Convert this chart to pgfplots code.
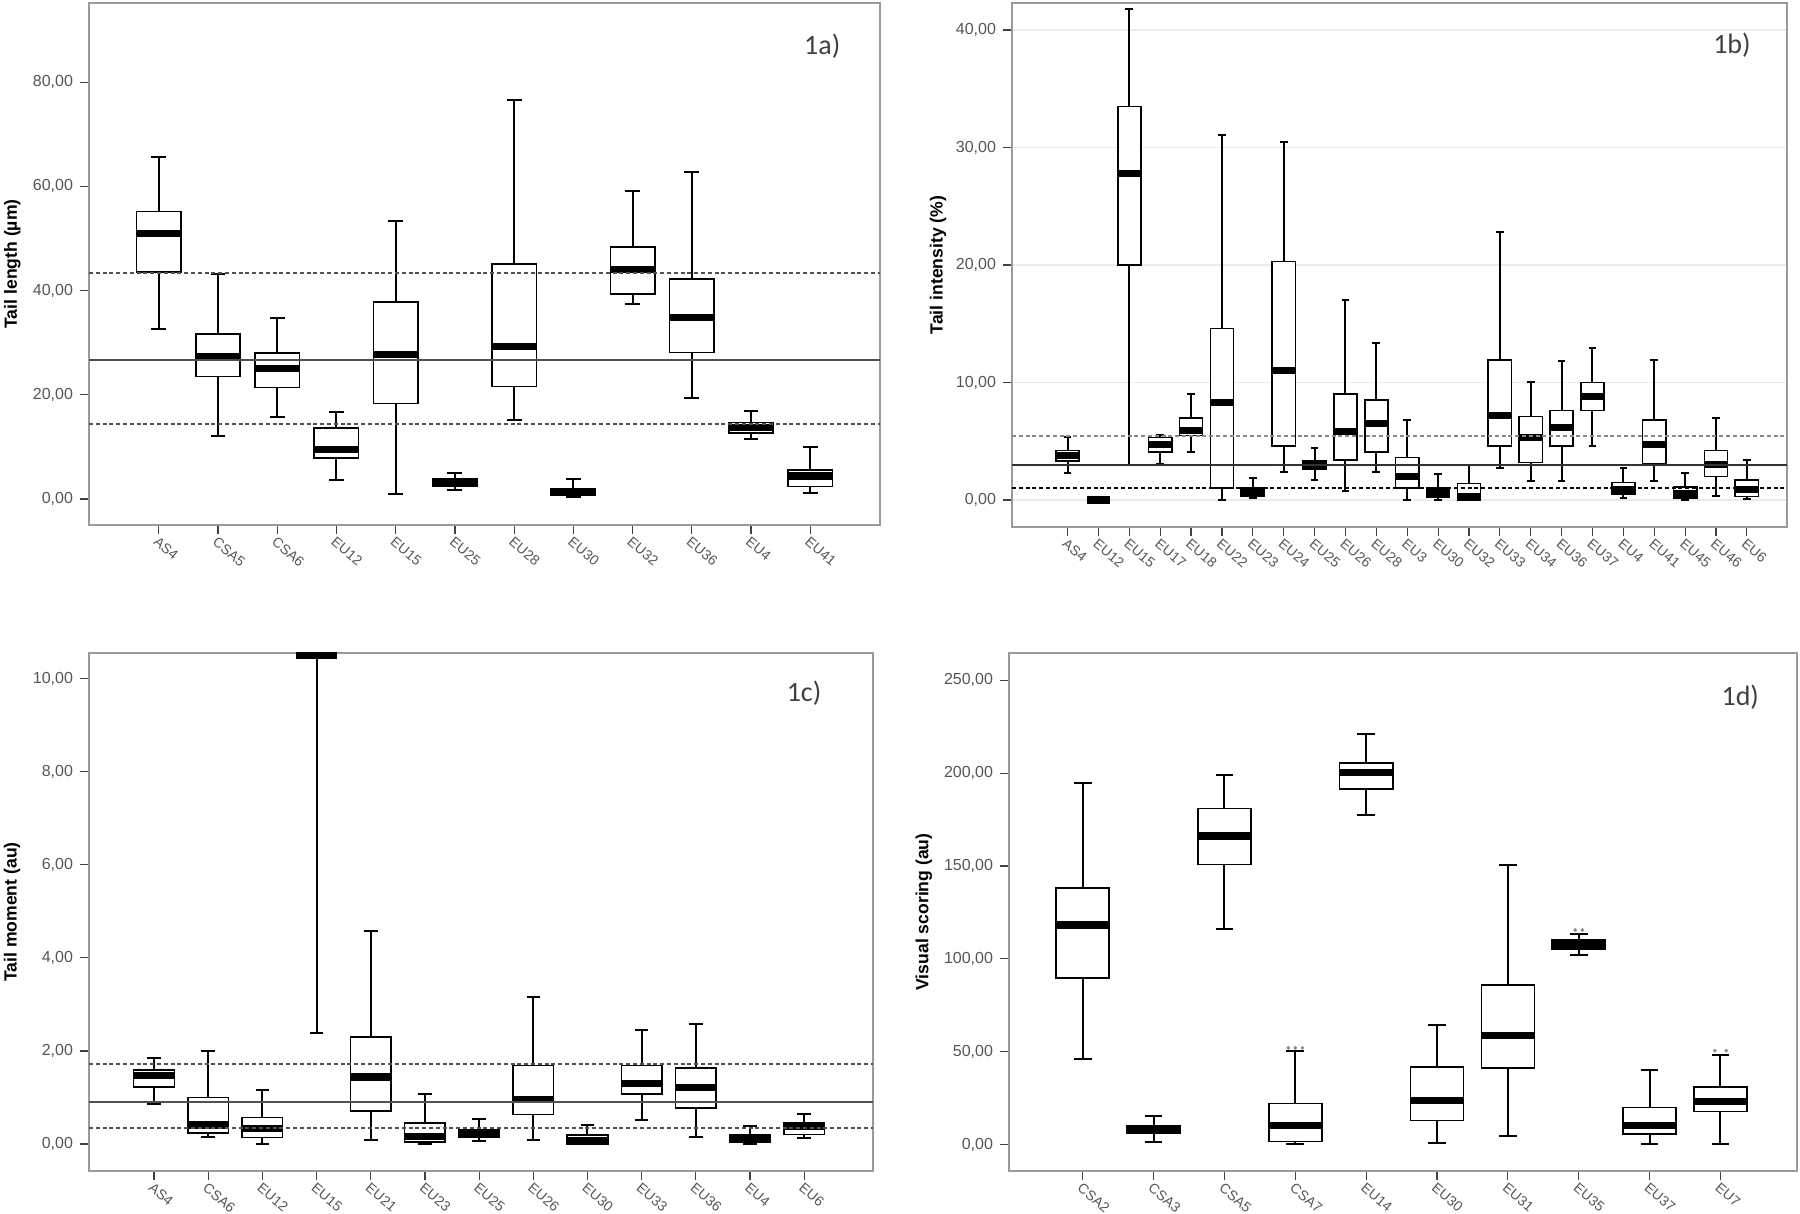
\documentclass[border=0pt]{standalone}
\usepackage{fontspec}
\setmainfont{Liberation Sans}
\newfontfamily\carlito{Carlito}
\usepackage{pgfplots}
\pgfplotsset{compat=1.18}
\usepgfplotslibrary{statistics}

\definecolor{tickgray}{HTML}{555555}
\definecolor{framegray}{HTML}{9A9A9A}
\definecolor{refgray}{HTML}{505050}
\definecolor{lightref}{HTML}{8A8A8A}

\newcommand{\bx}[6]{\addplot[bxs, boxplot prepared={draw position=#1, lower whisker=#2, lower quartile=#3, median=#4, upper quartile=#5, upper whisker=#6}] coordinates {};}

\tikzset{plabel/.style={font=\carlito\fontsize{14}{16}\selectfont, text=black!75}}

\pgfplotsset{
  panel/.style={
    scale only axis,
    axis line style={framegray, line width=0.7pt},
    tick align=outside,
    xtick pos=bottom, ytick pos=left,
    major tick length=4.5pt,
    tick style={line width=0.6pt, black!75},
    y tick label style={/pgf/number format/fixed, /pgf/number format/fixed zerofill,
      /pgf/number format/precision=2, /pgf/number format/use comma,
      /pgf/number format/assume math mode=true,
      font=\fontsize{8}{9}\selectfont, text=tickgray},
    x tick label style={rotate=-40, anchor=north west, inner sep=0.6pt,
      font=\fontsize{7}{8}\selectfont, text=tickgray},
    ylabel style={font=\bfseries\fontsize{8.8}{10}\selectfont, anchor=center},
    boxplot/draw direction=y,
    boxplot/box extend=0.75,
    boxplot/whisker extend=0.25,
    boxplot/every median/.style={line width=3.6pt},
    boxplot/every whisker/.style={line width=1pt},
    boxplot/every box/.style={line width=0.8pt},
    clip=false,
  },
  bxs/.style={black, solid, fill=white, mark=none},
  refdash/.style={refgray, line width=1pt, dash pattern=on 2pt off 1.4pt},
  refsolid/.style={refgray, line width=1pt},
  outl/.style={only marks, mark=*, mark size=0.7pt, draw=black!45, fill=black!45},
}

\begin{document}
\begin{tikzpicture}
\useasboundingbox (0,0) rectangle (900pt,607pt);

% ---------------- 1a ----------------
\begin{axis}[panel, at={(44.5pt,344.5pt)}, anchor=south west,
  width=395.5pt, height=261pt,
  xmin=-0.18, xmax=13.18, ymin=-5, ymax=95.2,
  ytick={0,20,40,60,80},
  xtick={1,...,12},
  xticklabels={AS4,CSA5,CSA6,EU12,EU15,EU25,EU28,EU30,EU32,EU36,EU4,EU41},
  ylabel={Tail length (µm)},
  ylabel style={at={(axis description cs:-0.097,0.5)}},
]
\bx{1}{32.6}{43.6}{50.9}{55.2}{65.6}
\bx{2}{12.1}{23.5}{27.3}{31.7}{43.1}
\bx{3}{15.8}{21.4}{25.1}{28.0}{34.8}
\bx{4}{3.7}{7.9}{9.5}{13.6}{16.7}
\bx{5}{0.9}{18.3}{27.7}{37.8}{53.3}
\bx{6}{1.8}{2.5}{3.2}{3.9}{4.9}
\bx{7}{15.2}{21.6}{29.2}{45.1}{76.6}
\bx{8}{0.3}{0.7}{1.3}{2.0}{3.9}
\bx{9}{37.5}{39.3}{44.1}{48.4}{59.2}
\bx{10}{19.4}{28.1}{34.8}{42.2}{62.8}
\bx{11}{11.5}{12.7}{13.7}{14.7}{16.9}
\bx{12}{1.1}{2.4}{4.4}{5.6}{9.9}
\addplot[refdash] coordinates {(-0.18,43.4) (13.18,43.4)};
\addplot[refsolid] coordinates {(-0.18,26.6) (13.18,26.6)};
\addplot[refdash] coordinates {(-0.18,14.3) (13.18,14.3)};
\node[plabel] at (rel axis cs:0.927,0.918) {1a)};
\end{axis}

% ---------------- 1b ----------------
\begin{axis}[panel, at={(506pt,343.5pt)}, anchor=south west,
  width=387.5pt, height=262pt,
  xmin=-0.8, xmax=24.3, ymin=-2.3, ymax=42.3,
  ytick={0,10,20,30,40},
  ymajorgrids, grid style={black!8, line width=0.8pt},
  xtick={1,...,23},
  xticklabels={AS4,EU12,EU15,EU17,EU18,EU22,EU23,EU24,EU25,EU26,EU28,EU3,EU30,EU32,EU33,EU34,EU36,EU37,EU4,EU41,EU45,EU46,EU6},
  ylabel={Tail intensity (\%)},
  ylabel style={at={(axis description cs:-0.0955,0.5)}},
]
\bx{1}{2.3}{3.3}{3.8}{4.2}{5.4}
\bx{2}{0}{0}{0}{0}{0}
\bx{3}{3.0}{20.0}{27.8}{33.5}{41.8}
\bx{4}{3.1}{4.1}{4.7}{5.3}{5.5}
\bx{5}{4.1}{5.5}{5.9}{7.0}{9.0}
\bx{6}{0}{1.0}{8.3}{14.6}{31.1}
\bx{7}{0.15}{0.3}{0.65}{1.0}{1.9}
\bx{8}{2.4}{4.6}{11.0}{20.3}{30.5}
\bx{9}{1.7}{2.6}{2.9}{3.3}{4.4}
\bx{10}{0.8}{3.4}{5.8}{9.0}{17.0}
\bx{11}{2.4}{4.1}{6.5}{8.5}{13.4}
\bx{12}{0}{1.0}{2.0}{3.6}{6.8}
\bx{13}{0}{0.2}{0.6}{1.0}{2.2}
\bx{14}{0}{0}{0.3}{1.4}{3.0}
\bx{15}{2.7}{4.6}{7.2}{11.9}{22.8}
\bx{16}{1.6}{3.2}{5.3}{7.1}{10.0}
\bx{17}{1.6}{4.6}{6.2}{7.6}{11.8}
\bx{18}{4.6}{7.6}{8.8}{10.0}{12.9}
\bx{19}{0.2}{0.5}{0.9}{1.5}{2.7}
\bx{20}{1.6}{3.1}{4.7}{6.8}{11.9}
\bx{21}{0}{0.15}{0.5}{1.1}{2.3}
\bx{22}{0.3}{2.0}{3.0}{4.2}{7.0}
\bx{23}{0.1}{0.3}{0.9}{1.7}{3.4}
\addplot[refdash, lightref] coordinates {(-0.8,5.45) (24.3,5.45)};
\addplot[refsolid, black!80] coordinates {(-0.8,3.0) (24.3,3.0)};
\addplot[refdash, black] coordinates {(-0.8,1.04) (24.3,1.04)};
\node[plabel] at (rel axis cs:0.929,0.92) {1b)};
\end{axis}

% ---------------- 1c ----------------
\begin{axis}[panel, at={(44.5pt,21.5pt)}, anchor=south west,
  width=392pt, height=259pt,
  xmin=-0.2, xmax=14.27, ymin=-0.58, ymax=10.55,
  ytick={0,2,4,6,8,10},
  xtick={1,...,13},
  xticklabels={AS4,CSA6,EU12,EU15,EU21,EU23,EU25,EU26,EU30,EU33,EU36,EU4,EU6},
  ylabel={Tail moment (au)},
  ylabel style={at={(axis description cs:-0.098,0.5)}},
]
\bx{1}{0.87}{1.22}{1.47}{1.59}{1.85}
\bx{2}{0.14}{0.24}{0.41}{1.0}{2.0}
\bx{3}{0}{0.14}{0.34}{0.57}{1.16}
\bx{4}{2.39}{10.5}{10.5}{10.5}{10.5}
\bx{5}{0.08}{0.71}{1.44}{2.3}{4.58}
\bx{6}{0}{0.04}{0.16}{0.45}{1.07}
\bx{7}{0.07}{0.14}{0.2}{0.3}{0.53}
\bx{8}{0.08}{0.63}{0.95}{1.69}{3.15}
\bx{9}{0}{0}{0.08}{0.19}{0.41}
\bx{10}{0.51}{1.08}{1.3}{1.69}{2.46}
\bx{11}{0.14}{0.77}{1.22}{1.63}{2.58}
\bx{12}{0}{0.04}{0.12}{0.19}{0.38}
\bx{13}{0.12}{0.2}{0.37}{0.45}{0.65}
\addplot[refdash] coordinates {(-0.2,1.71) (14.27,1.71)};
\addplot[refsolid] coordinates {(-0.2,0.9) (14.27,0.9)};
\addplot[refdash] coordinates {(-0.2,0.34) (14.27,0.34)};
\node[plabel] at (rel axis cs:0.912,0.923) {1c)};
\end{axis}

% ---------------- 1d ----------------
\begin{axis}[panel, at={(504.5pt,21.5pt)}, anchor=south west,
  width=394pt, height=259pt,
  xmin=-0.04, xmax=11.08, ymin=-14.3, ymax=264.7,
  ytick={0,50,100,150,200,250},
  xtick={1,...,10},
  xticklabels={CSA2,CSA3,CSA5,CSA7,EU14,EU30,EU31,EU35,EU37,EU7},
  ylabel={Visual scoring (au)},
  ylabel style={at={(axis description cs:-0.108,0.5)}},
]
\bx{1}{45.8}{89.6}{118.2}{138.1}{194.6}
\bx{2}{1.4}{6.1}{8.2}{10.2}{15.3}
\bx{3}{116.1}{150.8}{166.1}{180.9}{199.1}
\bx{4}{0}{1.6}{10.2}{22.0}{50.5}
\bx{5}{177.3}{191.5}{200.3}{205.4}{221.1}
\bx{6}{1.0}{12.8}{23.8}{41.8}{64.6}
\bx{7}{4.7}{41.2}{58.7}{86.0}{150.4}
\bx{8}{101.9}{105.3}{108.0}{110.0}{113.5}
\bx{9}{0}{5.7}{10.2}{20.0}{40.1}
\bx{10}{0}{17.7}{23.0}{31.0}{48.0}
\addplot[outl] coordinates {(3.9,52) (4.0,52) (4.1,52) (7.95,115.5) (8.05,115.5) (9.92,50.5) (10.08,50.5)};
\node[plabel] at (rel axis cs:0.928,0.915) {1d)};
\end{axis}
\end{tikzpicture}
\end{document}
